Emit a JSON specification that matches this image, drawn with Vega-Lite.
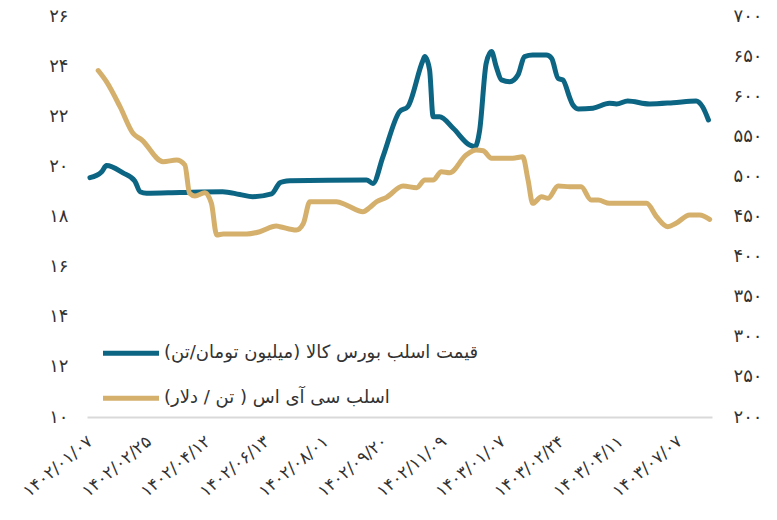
{
  "$schema": "https://vega.github.io/schema/vega-lite/v6.json",
  "autosize": "none",
  "width": 625,
  "height": 401,
  "padding": {"left": 87, "top": 16, "right": 65, "bottom": 103},
  "background": "white",
  "config": {
    "view": {"stroke": null},
    "font": "DejaVu Sans",
    "axis": {"labelFont": "DejaVu Sans", "labelColor": "#333333", "labelFontSize": 18, "ticks": false, "grid": false}
  },
  "resolve": {"scale": {"y": "independent"}},
  "encoding": {
    "x": {
      "field": "t", "type": "quantitative",
      "scale": {"domain": [-0.5, 105.5], "nice": false, "zero": false},
      "axis": {
        "title": null,
        "values": [0, 10, 20, 30, 40, 50, 60, 70, 80, 90, 100],
        "labelExpr": "['۱۴۰۲/۰۱/۰۷','۱۴۰۲/۰۲/۲۵','۱۴۰۲/۰۴/۱۲','۱۴۰۲/۰۶/۱۳','۱۴۰۲/۰۸/۰۱','۱۴۰۲/۰۹/۲۰','۱۴۰۲/۱۱/۰۹','۱۴۰۳/۰۱/۰۷','۱۴۰۳/۰۲/۲۴','۱۴۰۳/۰۴/۱۱','۱۴۰۳/۰۷/۰۷'][datum.value/10]",
        "labelAngle": -40,
        "labelAlign": "right",
        "labelBaseline": "middle",
        "labelPadding": 22,
        "labelFontSize": 17,
        "labelOverlap": false,
        "domainColor": "#d9d9d9",
        "domainWidth": 2
      }
    }
  },
  "layer": [
    {
      "data": {"values": [
        {"t": 0, "v": 19.55}, {"t": 2.0, "v": 19.79}, {"t": 2.8, "v": 20.03}, {"t": 5.6, "v": 19.74},
        {"t": 7.6, "v": 19.42}, {"t": 8.5, "v": 18.99}, {"t": 9.6, "v": 18.93}, {"t": 15.3, "v": 18.96},
        {"t": 22.5, "v": 18.99}, {"t": 25.4, "v": 18.88}, {"t": 27.6, "v": 18.79}, {"t": 30.8, "v": 18.9},
        {"t": 32.2, "v": 19.34}, {"t": 32.8, "v": 19.39}, {"t": 33.9, "v": 19.43}, {"t": 46.9, "v": 19.46},
        {"t": 48.0, "v": 19.32}, {"t": 49.7, "v": 20.39}, {"t": 52.5, "v": 22.18}, {"t": 53.9, "v": 22.38},
        {"t": 56.5, "v": 24.24}, {"t": 56.8, "v": 24.38}, {"t": 57.6, "v": 23.85}, {"t": 58.2, "v": 21.98},
        {"t": 59.3, "v": 21.98}, {"t": 61.6, "v": 21.52}, {"t": 64.4, "v": 20.85}, {"t": 65.3, "v": 20.78},
        {"t": 66.1, "v": 21.45}, {"t": 67.2, "v": 24.11}, {"t": 68.1, "v": 24.58}, {"t": 68.9, "v": 23.98},
        {"t": 69.8, "v": 23.45}, {"t": 71.2, "v": 23.38}, {"t": 72.6, "v": 23.65}, {"t": 73.7, "v": 24.38},
        {"t": 75.1, "v": 24.44}, {"t": 77.4, "v": 24.44}, {"t": 78.3, "v": 24.31}, {"t": 79.4, "v": 23.51},
        {"t": 80.2, "v": 23.45}, {"t": 81.4, "v": 22.72}, {"t": 81.9, "v": 22.45}, {"t": 82.8, "v": 22.29},
        {"t": 85.3, "v": 22.32}, {"t": 88.1, "v": 22.52}, {"t": 89.3, "v": 22.49}, {"t": 91.2, "v": 22.61},
        {"t": 94.9, "v": 22.49}, {"t": 98.9, "v": 22.54}, {"t": 102.8, "v": 22.61}, {"t": 103.9, "v": 22.38},
        {"t": 104.9, "v": 21.85}
      ]},
      "mark": {"type": "line", "strokeWidth": 5, "interpolate": "monotone", "strokeCap": "round", "strokeJoin": "round"},
      "encoding": {
        "y": {
          "field": "v", "type": "quantitative",
          "scale": {"domain": [10, 26], "nice": false, "zero": false},
          "axis": {
            "orient": "left", "title": null, "domain": false,
            "values": [10, 12, 14, 16, 18, 20, 22, 24, 26],
            "labelExpr": "['۱۰','۱۲','۱۴','۱۶','۱۸','۲۰','۲۲','۲۴','۲۶'][(datum.value-10)/2]",
            "labelPadding": 19
          }
        },
        "color": {
          "datum": "قیمت اسلب بورس کالا (میلیون تومان/تن)\u200F",
          "type": "nominal",
          "scale": {
            "domain": ["قیمت اسلب بورس کالا (میلیون تومان/تن)\u200F", "اسلب سی آی اس ( تن / دلار)\u200F"],
            "range": ["#0d6584", "#d5b06c"]
          },
          "legend": {
            "title": null,
            "orient": "none",
            "legendX": 27.5,
            "legendY": 320.7,
            "direction": "vertical",
            "padding": 0,
            "symbolType": "M-2,0H2",
            "symbolSize": 784,
            "symbolStrokeWidth": 5,
            "symbolFillColor": null,
            "labelOffset": 16.5,
            "rowPadding": 18,
            "labelFont": "DejaVu Sans",
            "labelFontSize": 18,
            "labelColor": "#333333",
            "labelLimit": 0
          }
        }
      }
    },
    {
      "data": {"values": [
        {"t": 1.4, "v": 632}, {"t": 2.8, "v": 618.1}, {"t": 5.1, "v": 586.9}, {"t": 7.3, "v": 553.7},
        {"t": 8.8, "v": 545.4}, {"t": 12.4, "v": 518.3}, {"t": 14.7, "v": 520.4}, {"t": 16.1, "v": 514.2},
        {"t": 16.9, "v": 478.9}, {"t": 17.8, "v": 475.5}, {"t": 19.5, "v": 479.7}, {"t": 20.6, "v": 466.4},
        {"t": 21.5, "v": 426.9}, {"t": 22.6, "v": 428.2}, {"t": 26.6, "v": 428.2}, {"t": 28.8, "v": 431.0},
        {"t": 31.6, "v": 438.1}, {"t": 32.2, "v": 437.3}, {"t": 35.0, "v": 433.1}, {"t": 36.2, "v": 441.5},
        {"t": 37.3, "v": 468.4}, {"t": 41.8, "v": 468.4}, {"t": 43.5, "v": 464.3}, {"t": 46.3, "v": 456.0},
        {"t": 47.5, "v": 461.5}, {"t": 48.6, "v": 468.4}, {"t": 50.3, "v": 473.9}, {"t": 53.1, "v": 488.0},
        {"t": 55.4, "v": 485.9}, {"t": 56.8, "v": 495.5}, {"t": 58.2, "v": 495.5}, {"t": 59.6, "v": 505.8},
        {"t": 61.0, "v": 504.6}, {"t": 63.8, "v": 526.7}, {"t": 65.5, "v": 532.9}, {"t": 66.7, "v": 532.0},
        {"t": 68.1, "v": 522.6}, {"t": 71.7, "v": 522.6}, {"t": 73.4, "v": 524.5}, {"t": 74.3, "v": 495.5},
        {"t": 75.1, "v": 466.4}, {"t": 76.6, "v": 474.7}, {"t": 77.7, "v": 472.7}, {"t": 79.4, "v": 488.0},
        {"t": 81.4, "v": 487.1}, {"t": 83.3, "v": 487.1}, {"t": 85.0, "v": 470.6}, {"t": 86.2, "v": 470.6},
        {"t": 88.1, "v": 466.4}, {"t": 94.4, "v": 466.4}, {"t": 96.1, "v": 449.7}, {"t": 98.0, "v": 437.3},
        {"t": 99.4, "v": 441.5}, {"t": 101.7, "v": 451.9}, {"t": 103.4, "v": 451.9}, {"t": 105.1, "v": 446.5}
      ]},
      "mark": {"type": "line", "strokeWidth": 5, "interpolate": "monotone", "strokeCap": "round", "strokeJoin": "round"},
      "encoding": {
        "y": {
          "field": "v", "type": "quantitative",
          "scale": {"domain": [200, 700], "nice": false, "zero": false},
          "axis": {
            "orient": "right", "title": null, "domain": false,
            "values": [200, 250, 300, 350, 400, 450, 500, 550, 600, 650, 700],
            "labelExpr": "['۲۰۰','۲۵۰','۳۰۰','۳۵۰','۴۰۰','۴۵۰','۵۰۰','۵۵۰','۶۰۰','۶۵۰','۷۰۰'][(datum.value-200)/50]",
            "labelPadding": 21
          }
        },
        "color": {"datum": "اسلب سی آی اس ( تن / دلار)\u200F", "type": "nominal"}
      }
    }
  ]
}
